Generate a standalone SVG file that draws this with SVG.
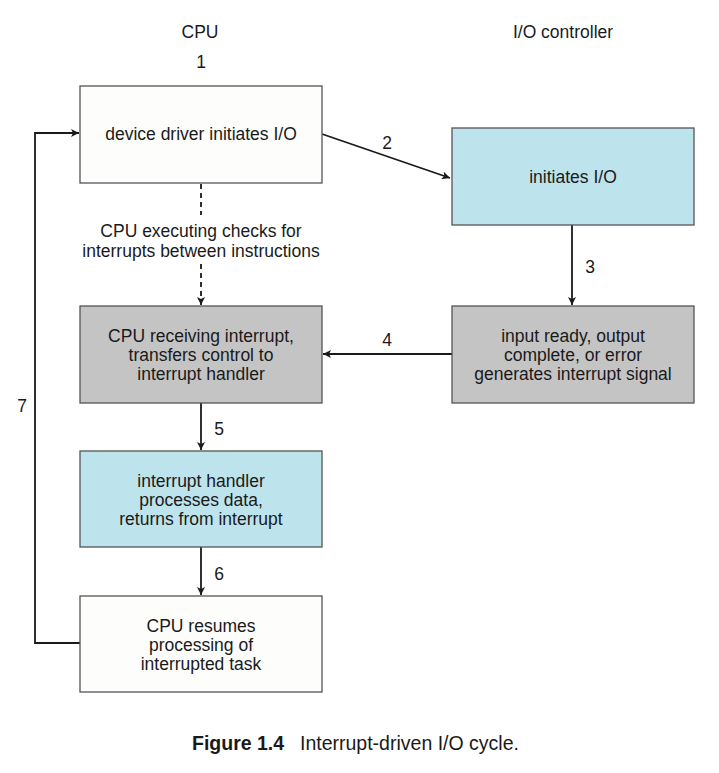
<svg xmlns="http://www.w3.org/2000/svg" width="719" height="773" viewBox="0 0 719 773">
<defs>
<marker id="ah" viewBox="0 0 10 10" refX="10" refY="5" markerWidth="8" markerHeight="8" markerUnits="userSpaceOnUse" orient="auto">
<path d="M0,0 L10,5 L0,10 L2.5,5 Z" fill="#1a1a1a"/>
</marker>
<style>
text{font-family:"Liberation Sans",Arial,sans-serif;font-size:17.5px;fill:#1a1a1a;text-anchor:middle}
.box{stroke:#555;stroke-width:1.3}
.white{fill:#fdfdfb}
.blue{fill:#bde3ed}
.gray{fill:#c4c4c4}
.conn{stroke:#1a1a1a;stroke-width:1.8;fill:none}
.dash{stroke-dasharray:5,4}
.cap{font-size:19.5px;text-anchor:start}
</style>
</defs>
<rect width="719" height="773" fill="#ffffff"/>
<g id="headers">
<text x="200" y="38">CPU</text>
<text x="563" y="38">I/O controller</text>
<text x="201" y="68">1</text>
</g>
<g id="connectors">
<line class="conn" x1="322" y1="134" x2="450" y2="178" marker-end="url(#ah)"/>
<text x="387" y="149">2</text>
<line class="conn dash" x1="201" y1="184" x2="201" y2="215"/>
<line class="conn dash" x1="201" y1="264" x2="201" y2="305" marker-end="url(#ah)"/>
<text x="201" y="237">CPU executing checks for</text>
<text x="201" y="257">interrupts between instructions</text>
<line class="conn" x1="572" y1="225" x2="572" y2="305" marker-end="url(#ah)"/>
<text x="590" y="273">3</text>
<line class="conn" x1="452" y1="354" x2="323" y2="354" marker-end="url(#ah)"/>
<text x="387" y="346">4</text>
<line class="conn" x1="201" y1="403" x2="201" y2="450" marker-end="url(#ah)"/>
<text x="219" y="435">5</text>
<line class="conn" x1="201" y1="547" x2="201" y2="595" marker-end="url(#ah)"/>
<text x="219" y="580">6</text>
<polyline class="conn" points="80,643 35,643 35,133 79,133" marker-end="url(#ah)"/>
<text x="22" y="412">7</text>
</g>
<g id="n1">
<rect class="box white" x="80" y="86" width="242" height="97"/>
<text x="201" y="140">device driver initiates I/O</text>
</g>
<g id="n2">
<rect class="box blue" x="452" y="128" width="242" height="97"/>
<text x="573" y="183">initiates I/O</text>
</g>
<g id="n3">
<rect class="box gray" x="452" y="306" width="242" height="97"/>
<text x="573" y="342">input ready, output</text>
<text x="573" y="361">complete, or error</text>
<text x="573" y="380">generates interrupt signal</text>
</g>
<g id="n4">
<rect class="box gray" x="80" y="306" width="242" height="97"/>
<text x="201" y="342">CPU receiving interrupt,</text>
<text x="201" y="361">transfers control to</text>
<text x="201" y="380">interrupt handler</text>
</g>
<g id="n5">
<rect class="box blue" x="80" y="451" width="242" height="96"/>
<text x="201" y="487">interrupt handler</text>
<text x="201" y="506">processes data,</text>
<text x="201" y="525">returns from interrupt</text>
</g>
<g id="n6">
<rect class="box white" x="80" y="596" width="242" height="96"/>
<text x="201" y="632">CPU resumes</text>
<text x="201" y="651">processing of</text>
<text x="201" y="670">interrupted task</text>
</g>
<g id="caption">
<text class="cap" x="192" y="750"><tspan font-weight="bold">Figure 1.4</tspan><tspan x="300">Interrupt-driven I/O cycle.</tspan></text>
</g>
</svg>
